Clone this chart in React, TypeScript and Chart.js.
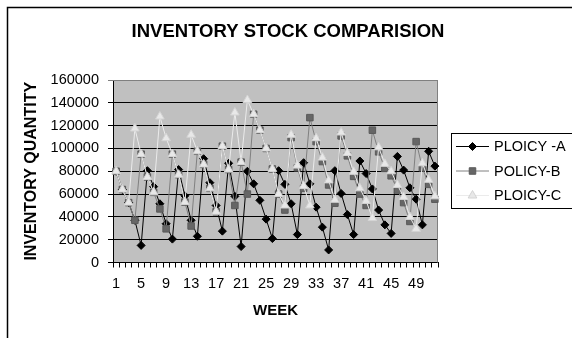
import React, { useEffect, useRef } from "react";
import { Chart, registerables } from "chart.js";

Chart.register(...registerables);

const weeks = [
  "1", "2", "3", "4", "5", "6", "7", "8", "9", "10", "11", "12", "13",
  "14", "15", "16", "17", "18", "19", "20", "21", "22", "23", "24", "25", "26",
  "27", "28", "29", "30", "31", "32", "33", "34", "35", "36", "37", "38", "39",
  "40", "41", "42", "43", "44", "45", "46", "47", "48", "49", "50", "51", "52",
];

const policyA = [
  80000, 64000, 52500, 37000, 15000, 80500, 66500, 51500, 34000, 20500,
  81500, 58500, 37000, 23000, 91000, 70000, 50000, 27500, 87000, 58000,
  14000, 80000, 69000, 54500, 38000, 21000, 80500, 68500, 51500, 24500,
  87500, 69000, 48500, 31000, 11000, 80500, 60500, 42000, 24500, 89000,
  78000, 64500, 46000, 33000, 25500, 93000, 81000, 65500, 55500, 33000,
  97500, 84500,
];

const policyB = [
  80000, 64000, 52500, 37000, 95000, 75000, 61500, 47000, 29500, 95000,
  77000, 53000, 32000, 97500, 86000, 65000, 44500, 102000, 81500, 50000,
  88000, 60000, 130000, 116000, 100000, 82000, 60000, 46000, 109500, 83000,
  65000, 127000, 106000, 88500, 68000, 52000, 111000, 93500, 75500, 60000,
  50000, 116000, 97000, 82500, 76000, 63500, 52500, 36000, 106000, 83000,
  68500, 55500,
];

const policyC = [
  80000, 64000, 52500, 117500, 95000, 75000, 61500, 128000, 109000, 95000,
  77000, 53000, 112000, 97500, 86000, 65000, 44500, 102000, 81500, 131500,
  88000, 142500, 130000, 116000, 100000, 82000, 60000, 50000, 112000, 85000,
  67000, 50000, 109000, 92000, 72000, 55000, 114000, 96000, 79500, 65000,
  54000, 39000, 101000, 86500, 80000, 68000, 57500, 40000, 29500, 87000,
  72500, 58000,
];

const seriesNames = ["PLOICY -A", "POLICY-B", "PLOICY-C"];
const yTicks = [0, 20000, 40000, 60000, 80000, 100000, 120000, 140000, 160000];

const FONT = '"Liberation Sans", Arial, sans-serif';

// Draws a legend marker in the same shape as the series' points
function drawMarker(ctx: CanvasRenderingContext2D, style: string, x: number, y: number, r: number, fill: string, stroke: string) {
  ctx.beginPath();
  if (style === "rectRot") {
    ctx.moveTo(x, y - r);
    ctx.lineTo(x + r, y);
    ctx.lineTo(x, y + r);
    ctx.lineTo(x - r, y);
  } else if (style === "rect") {
    const s = Math.SQRT1_2 * r;
    ctx.rect(x - s, y - s, 2 * s, 2 * s);
  } else {
    const h = r * 1.5;
    ctx.moveTo(x, y - r);
    ctx.lineTo(x + r * 0.866, y + r * 0.5);
    ctx.lineTo(x - r * 0.866, y + r * 0.5);
    void h;
  }
  ctx.closePath();
  ctx.fillStyle = fill;
  ctx.fill();
  ctx.strokeStyle = stroke;
  ctx.lineWidth = 1;
  ctx.stroke();
}

const framePlugin = {
  id: "frame",
  beforeDraw(chart: any) {
    const { ctx, chartArea, width, height } = chart;
    ctx.save();
    ctx.fillStyle = "#ffffff";
    ctx.fillRect(0, 0, width, height);
    // outer chart border
    ctx.strokeStyle = "#000000";
    ctx.lineWidth = 1.5;
    ctx.beginPath();
    ctx.moveTo(7.5, height + 2);
    ctx.lineTo(7.5, 7.5);
    ctx.lineTo(width + 2, 7.5);
    ctx.stroke();
    // plot background
    ctx.fillStyle = "#c0c0c0";
    ctx.fillRect(chartArea.left, chartArea.top, chartArea.right - chartArea.left, chartArea.bottom - chartArea.top);
    ctx.restore();
  },
  beforeDatasetsDraw(chart: any) {
    const { ctx, chartArea } = chart;
    ctx.save();
    ctx.strokeStyle = "#808080";
    ctx.lineWidth = 1;
    ctx.beginPath();
    ctx.moveTo(chartArea.left, chartArea.top + 0.5);
    ctx.lineTo(chartArea.right - 0.5, chartArea.top + 0.5);
    ctx.lineTo(chartArea.right - 0.5, chartArea.bottom);
    ctx.stroke();
    ctx.restore();
  },
  afterDraw(chart: any) {
    const { ctx } = chart;
    ctx.save();
    // title
    ctx.fillStyle = "#000000";
    ctx.font = `bold 18.5px ${FONT}`;
    ctx.textAlign = "center";
    ctx.textBaseline = "middle";
    ctx.fillText("INVENTORY STOCK COMPARISION", 288, 32);

    // legend
    ctx.strokeStyle = "#000000";
    ctx.lineWidth = 1;
    ctx.strokeRect(451.5, 133.5, 140, 75);
    const rows = [146.5, 171, 195.5];
    chart.data.datasets.forEach((ds: any, i: number) => {
      const y = rows[i];
      ctx.strokeStyle = ds.borderColor;
      ctx.lineWidth = 1;
      ctx.beginPath();
      ctx.moveTo(456, y);
      ctx.lineTo(489, y);
      ctx.stroke();
      drawMarker(ctx, ds.pointStyle, 472.5, y, ds.pointRadius, ds.pointBackgroundColor, ds.pointBorderColor);
      ctx.fillStyle = "#000000";
      ctx.font = `14.5px ${FONT}`;
      ctx.textAlign = "left";
      ctx.textBaseline = "middle";
      ctx.fillText(ds.label, 494, y + 0.5);
    });
    ctx.restore();
  },
};

export default function App() {
  const canvasRef = useRef<HTMLCanvasElement | null>(null);

  useEffect(() => {
    if (!canvasRef.current) return;
    const chart = new Chart(canvasRef.current, {
      type: "line",
      data: {
        labels: weeks,
        datasets: [
          {
            label: seriesNames[0],
            data: policyA,
            borderColor: "#000000",
            borderWidth: 1,
            pointStyle: "rectRot",
            pointRadius: 4,
            pointBackgroundColor: "#000000",
            pointBorderColor: "#000000",
            pointBorderWidth: 1,
            tension: 0,
            order: 3,
          },
          {
            label: seriesNames[1],
            data: policyB,
            borderColor: "#808080",
            borderWidth: 1,
            pointStyle: "rect",
            pointRadius: 4.6,
            pointBackgroundColor: "#666666",
            pointBorderColor: "#5a5a5a",
            pointBorderWidth: 1,
            tension: 0,
            order: 2,
          },
          {
            label: seriesNames[2],
            data: policyC,
            borderColor: "#ebebeb",
            borderWidth: 1,
            pointStyle: "triangle",
            pointRadius: 5,
            pointBackgroundColor: "#e8e8e8",
            pointBorderColor: "#d4d4d4",
            pointBorderWidth: 1,
            tension: 0,
            order: 1,
          },
        ],
      },
      options: {
        responsive: false,
        animation: false,
        devicePixelRatio: 1,
        layout: { padding: { top: 80, right: 134, left: 0, bottom: 0 } },
        plugins: {
          legend: { display: false },
          title: { display: false },
          tooltip: { enabled: false },
        },
        scales: {
          x: {
            type: "category",
            offset: true,
            grid: {
              offset: true,
              drawOnChartArea: false,
              drawTicks: true,
              tickLength: 5,
              color: "#000000",
            },
            border: { display: true, color: "#000000", width: 1 },
            ticks: {
              autoSkip: false,
              maxRotation: 0,
              minRotation: 0,
              padding: 8,
              color: "#000000",
              font: { family: FONT, size: 14.5 },
              callback: (_v: any, i: number) => (i % 4 === 0 ? weeks[i] : ""),
            },
            title: {
              display: true,
              text: "WEEK",
              color: "#000000",
              font: { family: FONT, size: 15, weight: "bold" },
              padding: { top: 0, bottom: 18 },
            },
            afterFit: (scale: any) => {
              scale.height = 75.5;
            },
          },
          y: {
            min: 0,
            max: 160000,
            afterBuildTicks: (scale: any) => {
              scale.ticks = yTicks.map((v) => ({ value: v }));
            },
            grid: {
              color: (c: any) => (c.tick && c.tick.value === 160000 ? "#808080" : "#000000"),
              drawTicks: true,
              tickLength: 5,
              lineWidth: 1,
            },
            border: { display: true, color: "#000000", width: 1 },
            ticks: {
              padding: 9,
              color: "#000000",
              font: { family: FONT, size: 14.5 },
              callback: (v: any) => String(v),
            },
            title: {
              display: true,
              text: "INVENTORY QUANTITY",
              color: "#000000",
              font: { family: FONT, size: 16, weight: "bold" },
              padding: { top: 22, bottom: 0 },
            },
            afterFit: (scale: any) => {
              scale.width = 113;
            },
          },
        },
      },
      plugins: [framePlugin],
    });
    return () => chart.destroy();
  }, []);

  return (
    <div style={{ position: "absolute", left: 0, top: 0, width: 572, height: 338, overflow: "hidden" }}>
      <canvas ref={canvasRef} width={572} height={338} style={{ display: "block" }} />
    </div>
  );
}
